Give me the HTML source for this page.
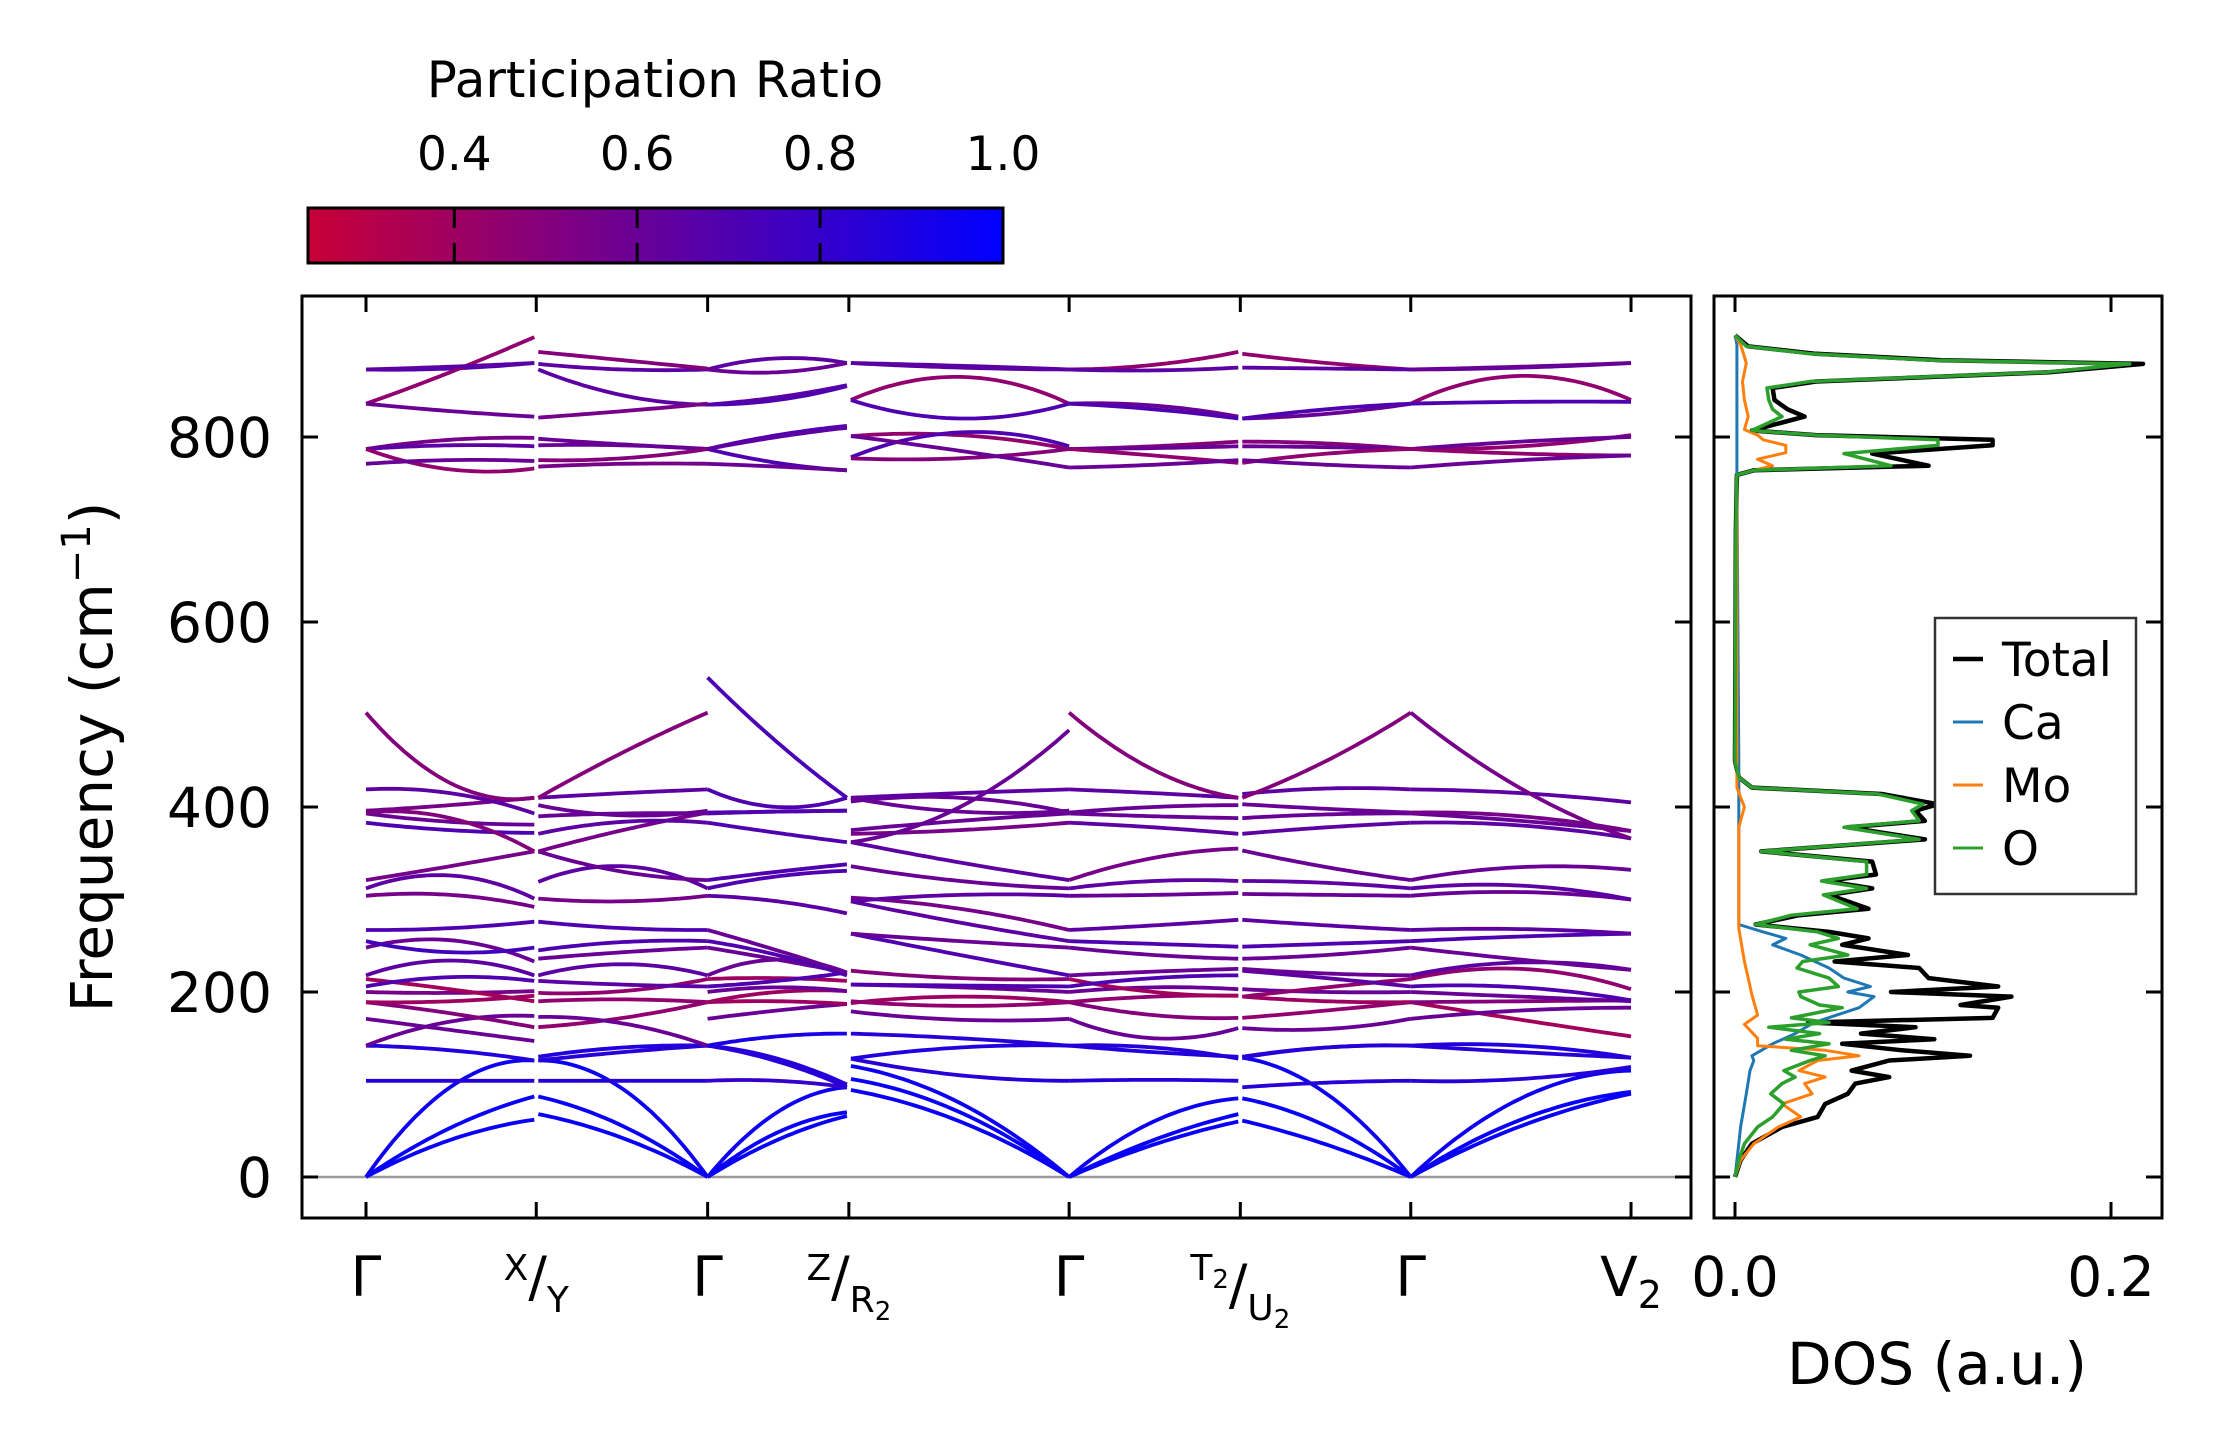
<!DOCTYPE html>
<html><head><meta charset="utf-8"><style>
html,body{margin:0;padding:0;background:#fff;}
svg{display:block;font-family:"DejaVu Sans","Liberation Sans",sans-serif;}
</style></head><body>
<svg id="fig" width="2222" height="1455" viewBox="0 0 2222 1455" xmlns="http://www.w3.org/2000/svg">
<defs>
<linearGradient id="cmap" x1="0" x2="1" y1="0" y2="0">
<stop offset="0" stop-color="rgb(200,0,55)"/><stop offset="1" stop-color="rgb(0,0,255)"/>
</linearGradient>
<clipPath id="mainclip"><rect x="302" y="296" width="1389" height="922"/></clipPath>
<clipPath id="dosclip"><rect x="1714" y="296" width="448" height="922"/></clipPath>
</defs>
<g>
<text x="655" y="97" font-size="50" text-anchor="middle">Participation Ratio</text>
<rect x="308" y="208" width="695" height="55" fill="url(#cmap)" stroke="#000" stroke-width="3"/>
<g id="cbticks"></g>
</g>
<g id="main">
<line x1="302" x2="1691" y1="1177" y2="1177" stroke="#999" stroke-width="2.5"/>
<g id="bands" clip-path="url(#mainclip)"></g>
<rect x="302" y="296" width="1389" height="922" fill="none" stroke="#000" stroke-width="3"/>
<g id="mainticks"></g>
<text transform="translate(112,757) rotate(-90)" font-size="58" text-anchor="middle">Frequency (cm<tspan dy="-22" font-size="40">−1</tspan><tspan dy="22">)</tspan></text>
</g>
<g id="dos">
<g id="doslines" clip-path="url(#dosclip)"></g>
<rect x="1714" y="296" width="448" height="922" fill="none" stroke="#000" stroke-width="3"/>
<g id="dosticks"></g>
<text x="1937" y="1384" font-size="58" text-anchor="middle">DOS (a.u.)</text>
<g>
<rect x="1935" y="618" width="201" height="276" fill="#fff" stroke="#333" stroke-width="2.5"/>
<g id="legend"></g>
</g>
</g>
</svg>
<script>
// ---------- colorbar data ----------
const cbTicks=[0.4,0.6,0.8,1.0];
const cbMin=0.24, cbMax=1.0;
// ---------- band structure data ----------
const kLabels=['Γ','X/Y','Γ','Z/R2','Γ','T2/U2','Γ','V2'];
const kDist=[0,0.909,1.824,2.578,3.754,4.668,5.578,6.754];
const yTicks=[0,200,400,600,800];
// each band: [freq at start, freq at mid, freq at end, participation ratio]
const bandsA=[[0,40,62,.97],[0,53,87,.97],[0,97,126,.95],[104,104,104,.85],[142,137,126,.88],[142,168,174,.6],[171,159,147,.6],[189,177,162,.5],[189,190,196,.4],[200,199,201,.55],[214,203,190,.38],[206,216,212,.7],[218,234,218,.65],[248,256,233,.6],[255,243,248,.75],[267,269,276,.7],[304,305,292,.55],[312,326,301,.65],[321,336,352,.55],[383,375,372,.7],[393,384,381,.6],[394,388,352,.5],[396,402,410,.55],[419,415,393,.65],[502,426,410,.5],
 [873,874,880,.7],[836,870,908,.45],[836,828,822,.6],[787,797,799,.55],[787,791,790,.65],[787,765,766,.45],[771,775,774,.6],[873,876,880,.65]];
const bandsB=[[68,42,0,.97],[87,55,0,.97],[126,95,0,.95],[104,104,104,.85],[130,140,142,.88],[126,135,142,.85],[162,172,189,.45],[173,166,142,.6],[190,192,189,.45],[199,201,214,.45],[212,208,206,.65],[218,230,218,.65],[236,243,248,.6],[245,254,255,.7],[276,269,267,.7],[301,298,304,.55],[319,336,312,.65],[352,330,321,.6],[352,375,394,.55],[371,384,383,.65],[390,393,393,.6],[410,415,419,.65],[402,391,396,.6],[410,459,502,.5],
 [879,873,873,.65],[892,883,874,.5],[873,845,835,.65],[821,828,836,.55],[798,792,787,.6],[791,791,787,.6],[775,777,787,.5],[768,771,771,.55]];
const bandsC=[[0,40,66,.97],[0,48,70,.97],[0,70,97,.95],[104,104,97,.8],[142,125,97,.85],[142,128,100,.85],[142,152,155,.9],[171,180,187,.6],[189,190,187,.4],[189,200,201,.4],[200,205,201,.6],[214,215,212,.4],[206,212,221,.7],[218,235,221,.6],[248,235,221,.6],[255,240,218,.7],[267,245,221,.6],[304,298,285,.65],[312,325,331,.7],[321,330,338,.7],[383,372,362,.7],[393,395,396,.65],[394,395,396,.7],[419,400,410,.7],[540,470,410,.72],
 [873,885,880,.65],[873,870,880,.6],[835,843,856,.65],[835,840,855,.7],[787,802,812,.7],[787,772,764,.7],[787,800,810,.65],[771,768,764,.6]];
const bandsD=[[94,60,0,.97],[106,70,0,.97],[120,80,0,.95],[128,110,104,.85],[155,150,142,.85],[128,140,142,.88],[179,170,171,.6],[188,195,189,.4],[190,185,189,.45],[208,205,200,.6],[223,215,214,.5],[208,207,206,.7],[263,240,218,.7],[263,255,248,.6],[298,275,255,.65],[302,290,267,.55],[298,305,304,.65],[336,320,312,.6],[362,340,321,.65],[371,375,383,.55],[375,385,393,.6],[406,410,394,.6],[410,415,419,.65],[362,400,483,.6],[410,395,396,.6],
 [880,875,873,.65],[880,877,873,.65],[840,865,836,.45],[840,820,836,.7],[801,802,787,.45],[778,805,790,.7],[777,777,787,.5],[801,785,767,.6]];
const bandsE=[[0,35,60,.97],[0,40,68,.97],[0,60,85,.95],[104,105,104,.85],[142,135,130,.88],[142,140,128,.85],[171,150,161,.6],[189,175,172,.5],[189,195,196,.45],[200,205,203,.6],[214,200,196,.38],[206,215,218,.7],[218,222,225,.6],[248,240,236,.6],[255,252,249,.7],[267,272,278,.65],[304,305,307,.6],[312,320,320,.65],[321,345,355,.55],[383,378,371,.65],[393,390,388,.6],[394,400,402,.6],[419,415,410,.65],[502,440,410,.5],
 [873,878,892,.45],[873,872,875,.65],[836,834,822,.6],[836,830,820,.7],[787,790,795,.5],[787,788,790,.6],[787,780,772,.45],[767,770,775,.6]];
const bandsF=[[61,35,0,.97],[85,55,0,.97],[129,90,0,.95],[97,102,104,.85],[129,140,142,.88],[130,140,142,.85],[161,160,171,.6],[172,180,189,.45],[195,190,189,.4],[203,200,200,.6],[195,205,214,.45],[223,215,206,.65],[225,220,218,.6],[236,240,248,.6],[249,252,255,.7],[278,272,267,.65],[306,305,304,.6],[320,318,312,.65],[353,335,321,.6],[371,378,383,.65],[388,392,393,.6],[403,398,394,.6],[414,420,419,.65],[410,450,502,.5],
 [890,880,873,.45],[875,874,873,.65],[820,825,836,.6],[820,830,836,.7],[795,793,787,.5],[790,789,787,.6],[772,782,787,.45],[775,770,767,.6]];
const bandsG=[[0,55,90,.97],[0,62,92,.97],[0,85,115,.95],[104,106,119,.85],[142,142,129,.88],[142,135,129,.85],[189,170,152,.38],[171,180,183,.6],[189,190,191,.5],[200,195,190,.6],[214,225,203,.45],[206,205,191,.7],[218,232,224,.65],[248,235,224,.6],[255,260,263,.7],[267,268,263,.65],[304,308,300,.6],[312,315,300,.65],[321,335,332,.6],[383,380,366,.65],[393,385,374,.6],[394,390,374,.55],[419,415,405,.65],[502,420,366,.55],
 [873,875,880,.65],[873,876,880,.6],[836,866,840,.45],[836,838,838,.7],[787,790,802,.45],[787,795,800,.6],[787,782,780,.45],[767,775,780,.6]];
const segments=[bandsA,bandsB,bandsC,bandsD,bandsE,bandsF,bandsG];
// ---------- DOS data ----------
const dosTicks=[0.0,0.2];
const totalFreq=[0,18,36,54,65,79,90,101,108,115,126,131,137,144,149,155,162,167,172,183,186,195,200,206,215,226,233,240,251,258,265,273,283,290,305,312,320,327,341,352,365,378,385,396,403,414,421,432,450,700,759,764,769,782,791,797,802,807,822,830,840,853,860,870,879,883,890,898,910];
const totalDos=[0,.003,.009,.025,.044,.048,.06,.064,.082,.062,.082,.125,.089,.057,.106,.067,.096,.039,.137,.14,.12,.147,.083,.14,.103,.098,.053,.092,.057,.071,.05,.011,.034,.071,.05,.073,.048,.075,.073,.014,.101,.06,.101,.096,.108,.078,.009,.002,0,.0005,.001,.01,.103,.073,.137,.137,.043,.009,.037,.028,.021,.02,.043,.167,.217,.11,.043,.007,0];
const oFreq=totalFreq;
const oDos=[0,.002,.005,.012,.02,.026,.019,.025,.032,.026,.04,.048,.03,.05,.027,.045,.018,.05,.03,.057,.045,.035,.034,.055,.05,.033,.036,.06,.04,.055,.044,.011,.03,.065,.047,.07,.046,.07,.07,.014,.098,.058,.098,.094,.1,.076,.009,.002,0,.0005,.001,.01,.083,.058,.108,.108,.043,.009,.025,.02,.018,.017,.04,.165,.21,.105,.04,.006,0];
const caFreq=[0,36,54,90,115,126,131,144,155,167,183,195,200,206,215,226,240,251,258,265,273,283,450,760,800,900,910];
const caDos=[0,.002,.003,.006,.008,.01,.009,.02,.032,.042,.066,.074,.06,.072,.058,.05,.035,.02,.027,.015,.002,.002,.002,.001,.001,.001,0];
const moFreq=[0,18,36,54,65,79,90,101,108,115,126,131,137,142,150,165,175,197,215,233,269,305,378,400,421,450,759,764,769,776,783,791,797,802,808,822,840,860,880,900,910];
const moDos=[0,.003,.01,.023,.035,.025,.041,.037,.048,.034,.044,.066,.048,.012,.012,.005,.012,.009,.007,.005,.002,.002,.002,.005,.001,.001,.001,.01,.02,.012,.027,.027,.015,.012,.005,.007,.005,.004,.006,.003,0];
const legendNames=['Total','Ca','Mo','O'];
const legendColors=['#000','#1f77b4','#ff7f0e','#2ca02c'];

const NS='http://www.w3.org/2000/svg';
function mk(tag,attrs,parent){const e=document.createElementNS(NS,tag);for(const k in attrs)e.setAttribute(k,attrs[k]);parent.appendChild(e);return e;}
const yS=f=>1177-0.925*f;
const kx=k=>366+k*187.3;
const cbx=v=>308+(v-cbMin)/(cbMax-cbMin)*695;
const dx=d=>1735+d*1880;
function prColor(p){const t=Math.max(0,Math.min(1,(p-cbMin)/(cbMax-cbMin)));return 'rgb('+Math.round(200*(1-t))+',0,'+Math.round(55+200*t)+')';}

const cbt=document.getElementById('cbticks');
cbTicks.forEach(v=>{
 const x=cbx(v);
 if(v<cbMax){
  const a=mk('line',{x1:x,x2:x,y1:208,y2:228,stroke:'#000','stroke-width':3},cbt);
  
  
  const b=mk('line',{x1:x,x2:x,y1:243,y2:263,stroke:'#000','stroke-width':3},cbt);
  
  
 }
 const t=mk('text',{x:x,y:170,'font-size':47,'text-anchor':'middle'},cbt);
 t.textContent=v.toFixed(1);
 
 
});

const bg=document.getElementById('bands');
const breaks=[false,true,false,true,false,true,false,false];
segments.forEach((seg,si)=>{
 let x0=kx(kDist[si]),x1=kx(kDist[si+1]);
 if(breaks[si])x0+=2; if(breaks[si+1])x1-=2;
 seg.forEach(b=>{
  // parabola through start/mid/end values, sampled for drawing
  let d='';
  const N=30;
  for(let i=0;i<=N;i++){
   const s=i/N;
   const f=b[0]*(1-s)*(1-2*s)+b[1]*4*s*(1-s)+b[2]*s*(2*s-1);
   d+=(i?'L':'M')+(x0+(x1-x0)*s).toFixed(1)+','+yS(f).toFixed(1);
  }
  const p=mk('path',{d:d,fill:'none',stroke:prColor(b[3]),'stroke-width':3.8,'stroke-linejoin':'round'},bg);
  
  
 });
});

const mt=document.getElementById('mainticks');
yTicks.forEach(v=>{
 const y=yS(v);
 const l=mk('line',{x1:302,x2:318,y1:y,y2:y,stroke:'#000','stroke-width':3},mt);
 
 
 const r=mk('line',{x1:1675,x2:1691,y1:y,y2:y,stroke:'#000','stroke-width':3},mt);
 
 
 const t=mk('text',{x:272,y:y+20,'font-size':55,'text-anchor':'end'},mt);
 t.textContent=String(v);
 
 
});
kDist.forEach((k,i)=>{
 const x=kx(k);
 const a=mk('line',{x1:x,x2:x,y1:296,y2:312,stroke:'#000','stroke-width':3},mt);
 
 
 const b=mk('line',{x1:x,x2:x,y1:1202,y2:1218,stroke:'#000','stroke-width':3},mt);
 
 
 const lab=kLabels[i];
 const t=mk('text',{x:x,y:1296,'font-size':55,'text-anchor':'middle'},mt);
 
 
 if(lab.indexOf('/')>=0){
  const parts=lab.split('/');
  const sub=s=>s.replace('2','');
  const s1=mk('tspan',{'font-size':36,dy:-16},t); s1.textContent=sub(parts[0]);
  if(parts[0].indexOf('2')>=0){const q=mk('tspan',{'font-size':26,dy:8},t);q.textContent='2';mk('tspan',{dy:-8},t);}
  const s2=mk('tspan',{'font-size':55,dy:16},t); s2.textContent='/';
  const s3=mk('tspan',{'font-size':36,dy:16},t); s3.textContent=sub(parts[1]);
  if(parts[1].indexOf('2')>=0){const q=mk('tspan',{'font-size':26,dy:8},t);q.textContent='2';}
 } else if(lab.indexOf('2')>=0){
  const s1=mk('tspan',{},t); s1.textContent=lab.replace('2','');
  const q=mk('tspan',{'font-size':38,dy:12},t); q.textContent='2';
 } else t.textContent=lab;
});

const dl=document.getElementById('doslines');
function drawDos(fr,vals,color,w,name){
 let d='';
 fr.forEach((f,i)=>{d+=(i?'L':'M')+dx(vals[i]).toFixed(1)+','+yS(f).toFixed(1);});
 const p=mk('path',{d:d,fill:'none',stroke:color,'stroke-width':w,'stroke-linejoin':'round'},dl);
 
 
}
drawDos(totalFreq,totalDos,'#000',4.5,'dos-total-line');
drawDos(caFreq,caDos,'#1f77b4',3,'dos-ca-line');
drawDos(moFreq,moDos,'#ff7f0e',3,'dos-mo-line');
drawDos(oFreq,oDos,'#2ca02c',3.5,'dos-o-line');
const dt=document.getElementById('dosticks');
yTicks.forEach(v=>{
 const y=yS(v);
 const a=mk('line',{x1:1714,x2:1730,y1:y,y2:y,stroke:'#000','stroke-width':3},dt);
 
 
 const b=mk('line',{x1:2146,x2:2162,y1:y,y2:y,stroke:'#000','stroke-width':3},dt);
 
 
});
dosTicks.forEach(v=>{
 const x=dx(v);
 const a=mk('line',{x1:x,x2:x,y1:296,y2:312,stroke:'#000','stroke-width':3},dt);
 
 
 const b=mk('line',{x1:x,x2:x,y1:1202,y2:1218,stroke:'#000','stroke-width':3},dt);
 
 
 const t=mk('text',{x:x,y:1296,'font-size':55,'text-anchor':'middle'},dt);
 t.textContent=v.toFixed(1);
 
 
});
const lg=document.getElementById('legend');
legendNames.forEach((n,i)=>{
 const y=659+i*63;
 const l=mk('line',{x1:1953,x2:1983,y1:y,y2:y,stroke:legendColors[i],'stroke-width':i?3:4.5},lg);
 
 
 const t=mk('text',{x:2002,y:y+17,'font-size':47},lg);
 t.textContent=n;
 
 
});
</script>
</body></html>
